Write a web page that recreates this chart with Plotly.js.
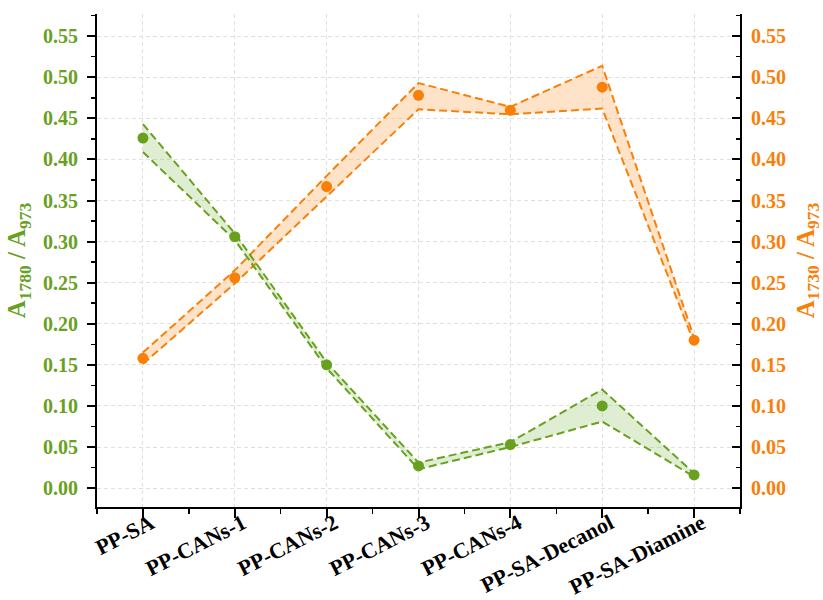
<!DOCTYPE html>
<html>
<head>
<meta charset="utf-8">
<script src="https://cdn.plot.ly/plotly-3.0.1.min.js"></script>
<style>
  html, body { margin: 0; padding: 0; background: #fff; }
  #chart { width: 823px; height: 600px; }
</style>
</head>
<body>
<div id="chart"></div>
<script>
// Sample names along the x axis
const samples = ['PP-SA', 'PP-CANs-1', 'PP-CANs-2', 'PP-CANs-3', 'PP-CANs-4', 'PP-SA-Decanol', 'PP-SA-Diamine'];

// A1780 / A973 (left axis): mean and band limits
const ratio1780 = [0.426, 0.306, 0.150, 0.027, 0.053, 0.100, 0.016];
const ratio1780Upper = [0.443, 0.310, 0.153, 0.031, 0.056, 0.120, 0.018];
const ratio1780Lower = [0.409, 0.302, 0.146, 0.023, 0.050, 0.081, 0.014];

// A1730 / A973 (right axis): mean and band limits
const ratio1730 = [0.158, 0.256, 0.367, 0.478, 0.460, 0.488, 0.180];
const ratio1730Upper = [0.165, 0.265, 0.380, 0.493, 0.464, 0.514, 0.183];
const ratio1730Lower = [0.151, 0.249, 0.355, 0.461, 0.455, 0.462, 0.177];

const GREEN = '#67a11e';
const GREEN_FILL = 'rgba(150,200,110,0.3)';
const ORANGE = '#f98008';
const ORANGE_FILL = 'rgba(252,175,100,0.35)';
const FONT = 'Liberation Serif, Times New Roman, serif';

const xs = samples.map((_, i) => i);
const dash = '8px,4px';

function band(upper, lower, axis, color, fill) {
  return [
    { x: xs, y: upper, yaxis: axis, mode: 'lines', line: { color: color, width: 2, dash: dash },
      hoverinfo: 'skip', showlegend: false },
    { x: xs, y: lower, yaxis: axis, mode: 'lines', line: { color: color, width: 2, dash: dash },
      fill: 'tonexty', fillcolor: fill, hoverinfo: 'skip', showlegend: false }
  ];
}

function points(vals, axis, color) {
  return { x: xs, y: vals, yaxis: axis, mode: 'markers',
    marker: { color: color, size: 11, line: { width: 0 } }, showlegend: false };
}

const traces = [
  ...band(ratio1730Upper, ratio1730Lower, 'y', ORANGE, ORANGE_FILL),
  points(ratio1730, 'y', ORANGE),
  ...band(ratio1780Upper, ratio1780Lower, 'y2', GREEN, GREEN_FILL),
  points(ratio1780, 'y2', GREEN)
];

const yRange = [-0.023, 0.577];

const layout = {
  width: 823, height: 600,
  margin: { l: 97, r: 83, t: 14, b: 93 },
  paper_bgcolor: '#fff', plot_bgcolor: '#fff',
  showlegend: false,
  font: { family: FONT },
  xaxis: {
    range: [-0.5, 6.5],
    tickmode: 'array', tickvals: xs, ticktext: samples,
    tickangle: -27,
    tickfont: { family: FONT, size: 22, weight: 'bold', color: '#000' },
    ticklabelshift: 8, ticklabelstandoff: -16,
    showline: true, linecolor: '#000', linewidth: 2,
    ticks: 'outside', ticklen: 9, tickwidth: 2, tickcolor: '#000',
    minor: { tickmode: 'array', tickvals: [-0.5, 0.5, 1.5, 2.5, 3.5, 4.5, 5.5, 6.5], ticks: 'outside', ticklen: 5, tickwidth: 1.5, tickcolor: '#000', showgrid: false },
    showgrid: true, gridcolor: '#e0e0e0', griddash: '4px,3px', gridwidth: 1,
    zeroline: false
  },
  // orange series: right side
  yaxis: {
    side: 'right',
    range: yRange, tick0: 0, dtick: 0.05, tickformat: '.2f',
    tickfont: { family: FONT, size: 20, weight: 'bold', color: ORANGE },
    ticklabelstandoff: 5,
    showline: true, linecolor: '#000', linewidth: 2,
    ticks: 'inside', ticklen: 8, tickwidth: 2, tickcolor: '#000',
    minor: { dtick: 0.025, ticks: 'inside', ticklen: 4, tickwidth: 1.5, tickcolor: '#000', showgrid: false },
    showgrid: true, gridcolor: '#e0e0e0', griddash: '4px,3px', gridwidth: 1,
    zeroline: false,
    title: { text: 'A<sub>1730</sub> / A<sub>973</sub>', font: { family: FONT, size: 25, weight: 'bold', color: ORANGE }, standoff: 12 }
  },
  // green series: left side, drawn on top
  yaxis2: {
    overlaying: 'y', side: 'left',
    range: yRange, tick0: 0, dtick: 0.05, tickformat: '.2f',
    tickfont: { family: FONT, size: 20, weight: 'bold', color: GREEN },
    ticklabelstandoff: 5,
    showline: true, linecolor: '#000', linewidth: 2,
    ticks: 'outside', ticklen: 8, tickwidth: 2, tickcolor: '#000',
    minor: { dtick: 0.025, ticks: 'outside', ticklen: 4, tickwidth: 1.5, tickcolor: '#000', showgrid: false },
    showgrid: false, zeroline: false,
    title: { text: 'A<sub>1780</sub> / A<sub>973</sub>', font: { family: FONT, size: 25, weight: 'bold', color: GREEN }, standoff: 10 }
  }
};

Plotly.newPlot('chart', traces, layout, { staticPlot: true, displayModeBar: false });
</script>
</body>
</html>
